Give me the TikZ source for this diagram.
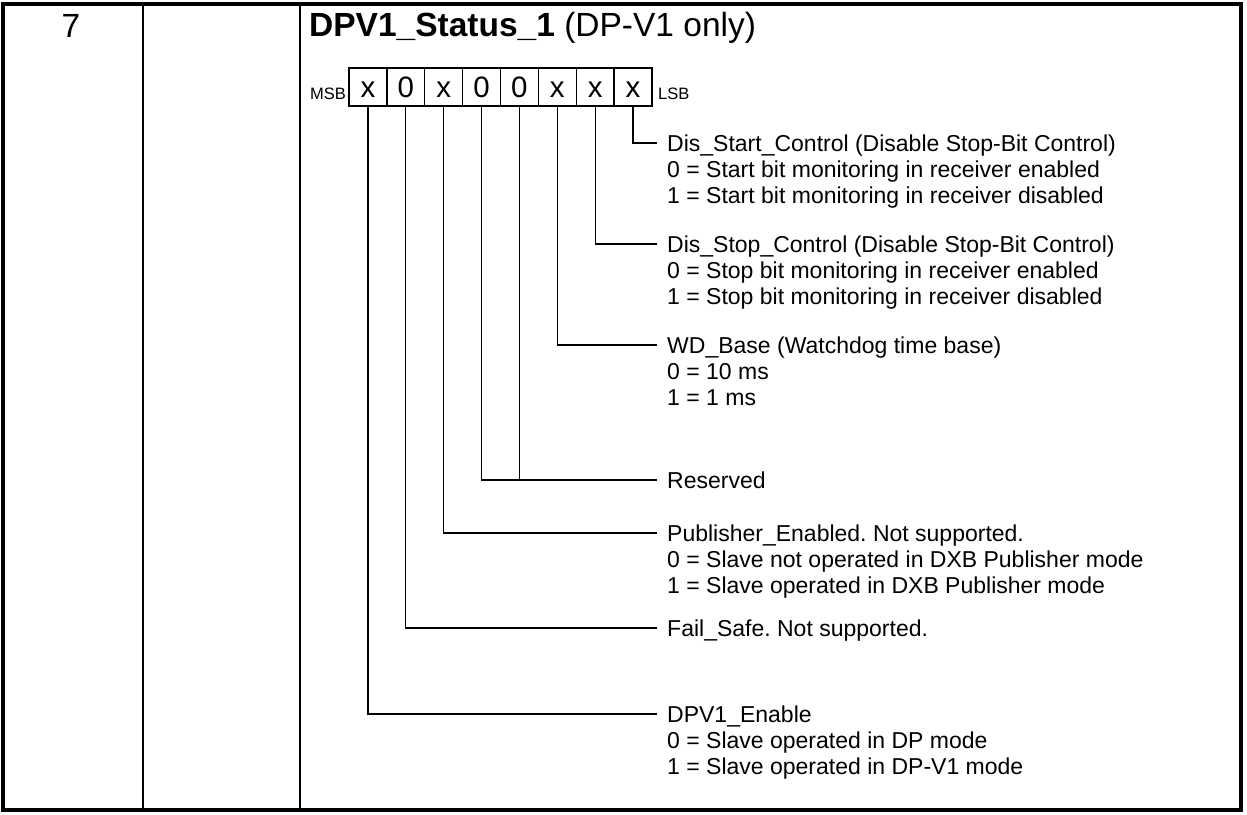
\documentclass[tikz,border=0pt]{standalone}
\usepackage{fontspec}
\setmainfont{Liberation Sans}
\frenchspacing
\begin{document}
\begin{tikzpicture}[x=1pt,y=-1pt,
  frame/.style={line width=3.5pt},
  rule/.style={line width=2pt},
  wire/.style={line width=1.3pt},
  bitcell/.style={draw, line width=1.3pt, minimum width=37.875pt, minimum height=38pt,
    inner sep=0pt, text height=21pt, text depth=0pt, font=\fontsize{29.5}{32}\selectfont},
  desc/.style={anchor=west, inner sep=0pt, text height=16.5pt, text depth=0pt,
    font=\fontsize{23}{26}\selectfont},
  edge/.style={anchor=base, inner sep=0pt, font=\fontsize{16.5}{18}\selectfont},
  head/.style={inner sep=0pt, font=\fontsize{33.5}{38}\selectfont},
]
\useasboundingbox (0,0) rectangle (1247,814);

% table frame and column rules
\draw[frame] (3,4) rectangle (1241,810);
\draw[rule] (143,4) -- (143,810);
\draw[rule] (300,4) -- (300,810);

% header row
\node[head, anchor=base] (num) at (71,37) {7};
\node[head, anchor=base west] (title) at (309,36) {\textbf{DPV1\_Status\_1} (DP-V1 only)};

% the eight bits, MSB first
\foreach \v [count=\i from 0] in {x,0,x,0,0,x,x,x} {
  \pgfmathtruncatemacro{\b}{7-\i}
  \node[bitcell] (b\b) at ({367.94+37.875*\i},87) {\v};
}
\node[edge, anchor=base east] (msb) at (346,99) {MSB};
\node[edge, anchor=base west] (lsb) at (658,99) {LSB};

% bit descriptions
\node[desc] (s0) at (667,143) {Dis\_Start\_Control (Disable Stop-Bit Control)};
\node[desc] (s0a) at (667,169) {0 = Start bit monitoring in receiver enabled};
\node[desc] (s0b) at (667,195) {1 = Start bit monitoring in receiver disabled};

\node[desc] (s1) at (667,244) {Dis\_Stop\_Control (Disable Stop-Bit Control)};
\node[desc] (s1a) at (667,270) {0 = Stop bit monitoring in receiver enabled};
\node[desc] (s1b) at (667,296) {1 = Stop bit monitoring in receiver disabled};

\node[desc] (s2) at (667,345) {WD\_Base (Watchdog time base)};
\node[desc] (s2a) at (667,371) {0 = 10 ms};
\node[desc] (s2b) at (667,397) {1 = 1 ms};

\node[desc] (s3) at (667,480) {Reserved};

\node[desc] (s5) at (667,533) {Publisher\_Enabled. Not supported.};
\node[desc] (s5a) at (667,559) {0 = Slave not operated in DXB Publisher mode};
\node[desc] (s5b) at (667,585) {1 = Slave operated in DXB Publisher mode};

\node[desc] (s6) at (667,628) {Fail\_Safe. Not supported.};

\node[desc] (s7) at (667,714) {DPV1\_Enable};
\node[desc] (s7a) at (667,740) {0 = Slave operated in DP mode};
\node[desc] (s7b) at (667,766) {1 = Slave operated in DP-V1 mode};

% leader lines from each bit to its description
\foreach \b/\t in {0/s0,1/s1,2/s2,4/s3,5/s5,6/s6,7/s7}
  \draw[wire] (b\b.south) |- ([xshift=-10pt]\t.west);
\draw[wire] (b3.south) -- (b3.south |- s3.west);
\end{tikzpicture}
\end{document}
